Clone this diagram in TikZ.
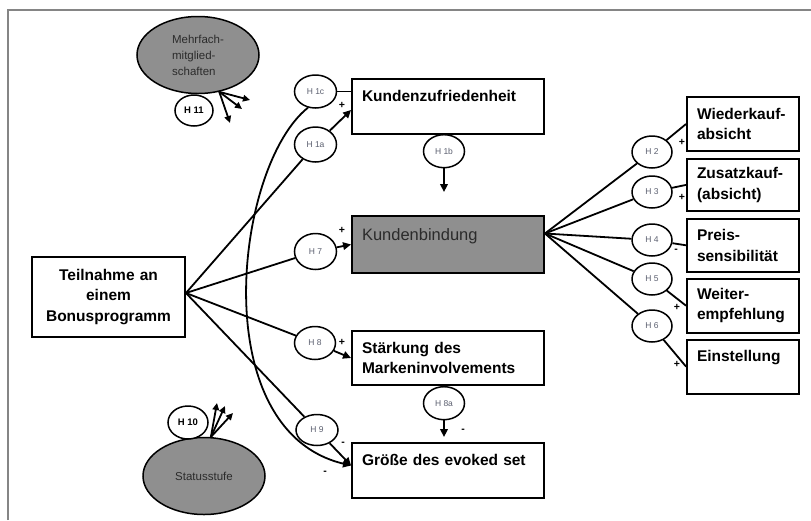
\documentclass[tikz,border=0pt]{standalone}
\usepackage{fontspec}
\setmainfont{Liberation Sans}
\usepackage{tikz}
\usetikzlibrary{arrows.meta, positioning, shapes.geometric}
\definecolor{tgray}{HTML}{8F8F8F}
\definecolor{tdark}{HTML}{2B2B2B}
\definecolor{thyp}{HTML}{5C6070}
\definecolor{framegray}{HTML}{858585}
\newcommand{\boxfont}{\fontsize{15.5}{20.5}\selectfont\bfseries}
\newcommand{\boxfontR}{\fontsize{16.5}{20.5}\selectfont}
\newcommand{\hypfont}{\fontsize{8.5}{9}\selectfont}
\newcommand{\hypfontB}{\fontsize{9.5}{10}\selectfont\bfseries}
\newcommand{\modfont}{\fontsize{11.5}{16}\selectfont}
\newcommand{\signfont}{\fontsize{10.5}{10}\selectfont\bfseries}
\tikzset{
  bbox/.style={draw, line width=1.9pt, fill=white, minimum width=192pt, text width=172pt, inner xsep=10pt, align=left, font=\boxfont},
  bboxG/.style={bbox, fill=tgray, text=tdark, font=\boxfontR},
  rbox/.style={bbox, minimum width=112pt, text width=92pt},
  hyp/.style={draw, ellipse, line width=1.5pt, fill=white, minimum width=41pt, minimum height=33pt, inner sep=0pt, font=\hypfont, text=thyp},
  hypB/.style={hyp, font=\hypfontB, text=black},
  moder/.style={draw, ellipse, line width=1.5pt, fill=tgray, minimum width=122pt, minimum height=77pt, inner sep=0pt, align=left, font=\modfont, text=tdark},
  tline/.style={line width=1.8pt},
  tarr/.style={tline, -{Triangle[length=8pt, width=7.5pt]}},
  tarrS/.style={tline, -{Triangle[length=7pt, width=6.5pt]}},
  tsign/.style={font=\signfont, inner sep=0pt},
  tframe/.style={draw=framegray, line width=2pt},
}
\begin{document}
\begin{tikzpicture}[x=1pt, y=-1pt]
  \useasboundingbox (0,0) rectangle (811,520);
  \draw[tframe] (8,520) -- (8,10) -- (811,10);

  % constructs
  \node[bbox, minimum width=153pt, text width=133pt, minimum height=80pt, align=center] (tb) at (108.5,297) {Teilnahme an\\einem\\Bonusprogramm};
  \node[bbox, minimum height=55pt] (kz) at (448,106.5) {Kundenzufriedenheit\\~};
  \node[bboxG, minimum height=57pt] (kb) at (448,244.5) {Kundenbindung\\~};
  \node[bbox, minimum height=54pt] (sm) at (448,358) {Stärkung des\\Markeninvolvements};
  \node[bbox, minimum height=55pt] (es) at (448,470.5) {Größe des evoked set\\~};

  % outcomes
  \node[rbox, minimum height=54pt] (wk) at (743,124) {Wiederkauf-\\absicht};
  \node[rbox, minimum height=52pt, below=6pt of wk] (zk) {Zusatzkauf-\\(absicht)};
  \node[rbox, minimum height=53pt, below=6pt of zk] (ps) {Preis-\\sensibilität};
  \node[rbox, minimum height=54pt, below=5pt of ps] (we) {Weiter-\\empfehlung};
  \node[rbox, minimum height=54pt, below=5pt of we] (ei) {Einstellung\\~};

  % moderators
  \node[moder] (mm) at (198,55) {Mehrfach-\\mitglied-\\schaften};
  \node[moder] (st) at (204,476) {Statusstufe};
  \node[hypB, minimum width=38pt, minimum height=31pt, below=0pt of mm, xshift=-4pt] (h11) {H 11};
  \node[hypB, minimum width=40pt, minimum height=33pt, above=-3pt of st, xshift=-16pt] (h10) {H 10};

  % hypotheses
  \node[hyp, minimum width=42pt] (h1c) at (315.5,91.5) {H 1c};
  \node[hyp, minimum width=42pt, minimum height=35pt] (h1a) at (315.5,144.5) {H 1a};
  \node[hyp, below=-1pt of kz, xshift=-4pt] (h1b) {H 1b};
  \node[hyp, minimum width=42pt, minimum height=36pt] (h7) at (315.5,251.5) {H 7};
  \node[hyp] (h8) at (315,343) {H 8};
  \node[hyp, below=0pt of sm, xshift=-4pt] (h8a) {H 8a};
  \node[hyp, minimum width=42pt, minimum height=31pt] (h9) at (317,430) {H 9};
  \foreach \n/\y in {2/152, 3/192, 4/240, 5/279, 6/326}
    \node[hyp, minimum width=40pt, minimum height=32pt] (h\n) at (652,\y) {H \n};

  % paths from the programme
  \coordinate (tbfan) at ([yshift=4pt]tb.east);
  \coordinate (esin) at ([yshift=5pt]es.west);
  \foreach \h in {h1a, h7, h8, h9}
    \draw[tline] (tbfan) -- (\h);
  \draw[tarr] (h1a) -- ([yshift=-3.5pt]kz.west);
  \draw[tarr] (h7) -- (kb.west);
  \draw[tarr] (h8) -- (sm.west);
  \draw[tarr] (h9) -- (esin);
  \draw[tline] (h1c) -- (h1c -| kz.west);
  \draw[tarr] (h1c.-115) .. controls +(-73,58) and +(-147,-35) .. (esin);
  \draw[tarr, shorten >=23pt] (h1b) -- (h1b |- kb.north);
  \draw[tarr, shorten >=5pt] (h8a) -- (h8a |- es.north);

  % paths from Kundenbindung
  \coordinate (kbfan) at ([yshift=11pt]kb.east);
  \foreach \h/\b in {h2/wk, h3/zk, h4/ps, h5/we, h6/ei} {
    \draw[tline] (kbfan) -- (\h);
    \draw[tline] (\h) -- (\b.west);
  }

  % moderating effects
  \coordinate (m1) at (250,100);
  \coordinate (m2) at (242,109);
  \coordinate (m3) at (230,123);
  \coordinate (s1) at (217,403);
  \coordinate (s2) at (225,406);
  \coordinate (s3) at (233,413);
  \foreach \e in {m1, m2, m3}
    \draw[tarrS] (mm.-60) -- (\e);
  \foreach \e in {s1, s2, s3}
    \draw[tarrS] (st.80) -- (\e);

  % signs
  \node[tsign] at (342,105) {+};
  \node[tsign] at (342,230) {+};
  \node[tsign] at (342,342) {+};
  \node[tsign] at (343,444) {-};
  \node[tsign] at (325,473) {-};
  \node[tsign] at (463,431) {-};
  \node[tsign] at (682,142) {+};
  \node[tsign] at (682,197) {+};
  \node[tsign] at (676,251) {-};
  \node[tsign] at (677,307) {+};
  \node[tsign] at (677,364) {+};
\end{tikzpicture}
\end{document}
